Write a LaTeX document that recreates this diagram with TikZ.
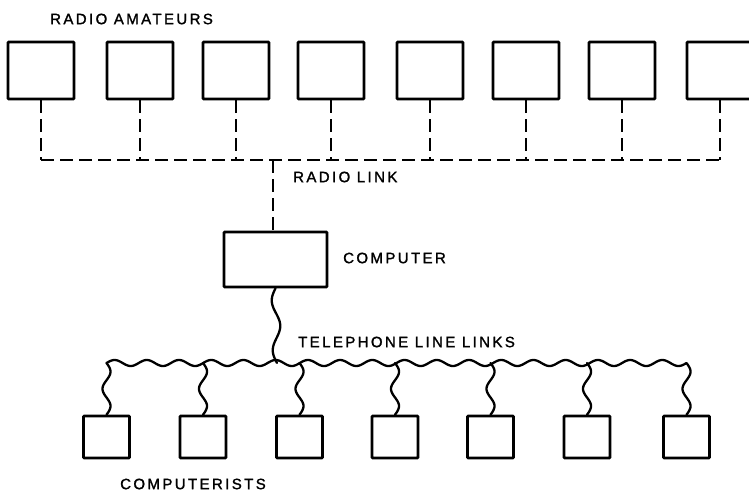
\documentclass[tikz,border=0pt]{standalone}
\usepackage{fontspec}
\newfontfamily\lblfont{Liberation Sans}[LetterSpace=16,FakeBold=1.5]
\usetikzlibrary{calc}
% wavy telephone line between two named points: #1 from, #2 to, #3 periods, #4 amplitude
\newcommand\wavyv[4]{\draw[wire] let \p1=(#1), \p2=(#2) in
  plot[variable=\t, domain=0:1, samples=80, smooth]
  ({\x1+(\x2-\x1)*\t+(#4)*sin(360*(#3)*\t)}, {\y1+(\y2-\y1)*\t});}
\newcommand\wavyh[4]{\draw[wire] let \p1=(#1), \p2=(#2) in
  plot[variable=\t, domain=0:1, samples=600, smooth]
  ({\x1+(\x2-\x1)*\t}, {\y1+(\y2-\y1)*\t+(#4)*sin(360*(#3)*\t)});}
\begin{document}
\begin{tikzpicture}[x=1pt,y=-1pt,
  box/.style={draw, line width=2.6pt, inner sep=0pt, rounded corners=0.8pt},
  ham/.style={box, minimum width=66pt, minimum height=57pt},
  cpu/.style={box, minimum width=103pt, minimum height=55pt},
  usr/.style={box, minimum width=46pt, minimum height=42pt},
  radio/.style={line width=2.3pt, dash pattern=on 13pt off 6pt},
  wire/.style={line width=2.3pt, line join=round, line cap=round},
  lbl/.style={anchor=west, inner sep=0pt, font=\lblfont\fontsize{15}{17}\selectfont}]
\useasboundingbox (0,0) rectangle (749,491);
% radio amateurs
\foreach \i/\x in {1/41,2/140,3/236,4/331,5/430,6/526,7/622,8/720} {
  \node[ham] (a\i) at (\x,70.5) {};
  \coordinate (h\i) at (\x,160);
  \draw[radio] (a\i.south) -- (h\i);
}
\draw[radio] (h1) -- (h8);
\coordinate (hr) at (273,160);
% computer
\node[cpu] (comp) at (275.5,259.5) {};
\draw[radio] (hr) -- (hr |- comp.north);
% computerists
\foreach \i/\x in {1/106.5,2/203,3/299.5,4/395,5/490.5,6/587,7/686.5} {
  \node[usr] (c\i) at (\x,437) {};
  \coordinate (j\i) at (\x,363);
  \wavyv{j\i}{c\i.north}{1.5}{4}
}
\coordinate (jc) at (277,363);
\wavyh{j1}{j7}{18}{3}
\wavyv{comp.south}{jc}{1.5}{-4}
% labels
\node[lbl] (t1) at (50,19) {RADIO AMATEURS};
\node[lbl] (t2) at (293,177) {RADIO LINK};
\node[lbl] (t3) at (343,258) {COMPUTER};
\node[lbl] (t4) at (298,342) {TELEPHONE LINE LINKS};
\node[lbl] (t5) at (120,484) {COMPUTERISTS};
\end{tikzpicture}
\end{document}
